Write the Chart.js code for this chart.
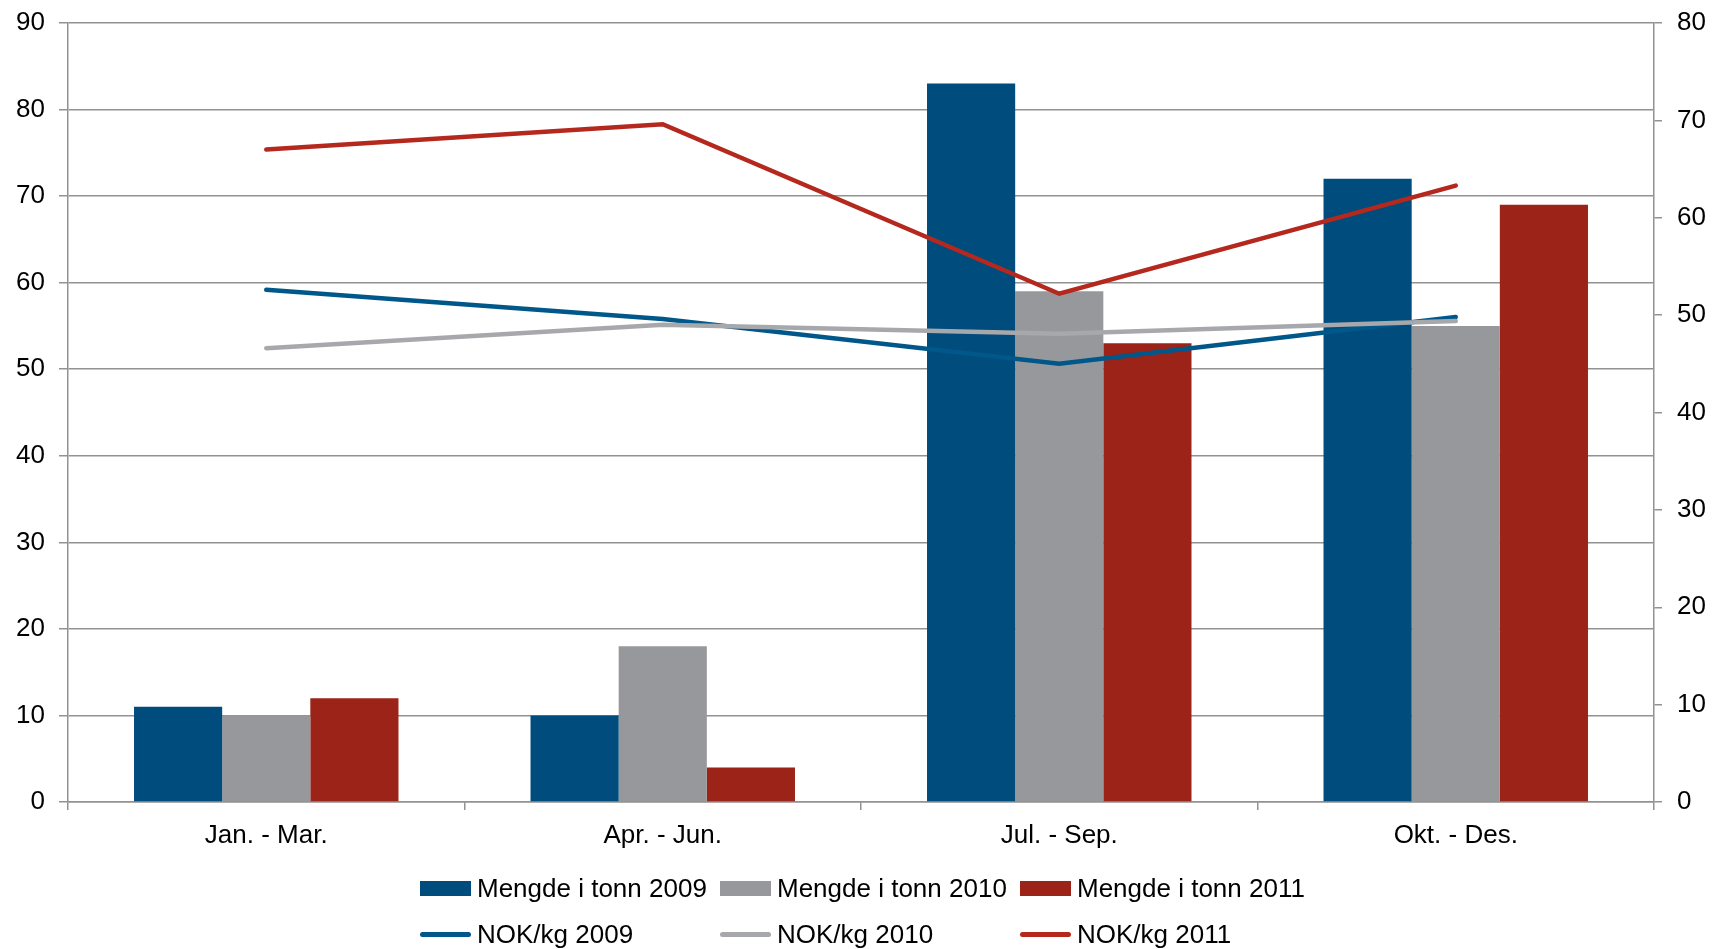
<!DOCTYPE html>
<html>
<head>
<meta charset="utf-8">
<script src="https://cdn.jsdelivr.net/npm/chart.js@4/dist/chart.umd.min.js"></script>
<style>
  body { margin: 0; background: #fff; }
  #wrap { position: relative; width: 1712px; height: 949px; }
  #legend {
    position: absolute; left: 420px; top: 865px;
    display: grid; grid-template-columns: 300px 300px 300px;
    font: 26px "Liberation Sans", Arial, sans-serif; color: #000;
  }
  .item { display: flex; align-items: center; height: 46px; white-space: nowrap; }
  .box { width: 51px; height: 15px; margin-right: 6px; }
  .line { width: 51px; height: 5px; border-radius: 3px; margin-right: 6px; }
</style>
</head>
<body>
<div id="wrap">
  <canvas id="chart" width="1712" height="949"></canvas>
  <div id="legend"></div>
</div>
<script>
const quarters = ['Jan. - Mar.', 'Apr. - Jun.', 'Jul. - Sep.', 'Okt. - Des.'];

// tonnes (left axis)
const tonn2009 = [11, 10, 83, 72];
const tonn2010 = [10, 18, 59, 55];
const tonn2011 = [12, 4, 53, 69];

// NOK/kg (right axis)
const nok2009 = [52.6, 49.6, 45.0, 49.8];
const nok2010 = [46.6, 49.0, 48.1, 49.4];
const nok2011 = [67.0, 69.6, 52.2, 63.3];

const gridColor = '#929292';
const font = { family: '"Liberation Sans", Arial, sans-serif', size: 26 };

function barSet(label, data, color) {
    return {
        type: 'bar', label: label, data: data, yAxisID: 'y',
        backgroundColor: color, borderWidth: 0,
        categoryPercentage: 0.667, barPercentage: 1, order: 10
    };
}

function lineSet(label, data, color, order) {
    return {
        type: 'line', label: label, data: data, yAxisID: 'y1',
        borderColor: color, backgroundColor: color, borderWidth: 4.5,
        pointRadius: 0, tension: 0, fill: false,
        borderCapStyle: 'round', order: order
    };
}

const datasets = [
    barSet('Mengde i tonn 2009', tonn2009, '#004C7C'),
    barSet('Mengde i tonn 2010', tonn2010, '#97989B'),
    barSet('Mengde i tonn 2011', tonn2011, '#9B2318'),
    lineSet('NOK/kg 2009', nok2009, '#00578A', 3),
    lineSet('NOK/kg 2010', nok2010, '#A7A8AC', 2),
    lineSet('NOK/kg 2011', nok2011, '#B4281E', 1)
];

// fixed axis widths, no extra room for label overhang
function fitY(width) {
    return function(scale) {
        scale.width = width;
        scale.paddingTop = 0;
        scale.paddingBottom = 0;
    };
}

const ctx = document.getElementById('chart').getContext('2d');
new Chart(ctx, {
    data: { labels: quarters, datasets: datasets },
    options: {
        responsive: false,
        animation: false,
        layout: { padding: { top: 23, left: 0, right: 0, bottom: 0 } },
        plugins: { legend: { display: false }, tooltip: { enabled: false } },
        scales: {
            x: {
                offset: true,
                grid: { offset: true, drawOnChartArea: false, color: gridColor, lineWidth: 1.5, tickLength: 8 },
                border: { color: gridColor, width: 1.5 },
                ticks: { color: '#000', font: font, padding: 10, maxRotation: 0 },
                afterFit: function(scale) { scale.height = 147; }
            },
            y: {
                position: 'left', min: 0, max: 90,
                grid: { color: gridColor, lineWidth: 1.5, tickLength: 9 },
                border: { color: gridColor, width: 1.5 },
                ticks: { stepSize: 10, color: '#000', font: font, padding: 14 },
                afterFit: fitY(68)
            },
            y1: {
                position: 'right', min: 0, max: 80,
                grid: { drawOnChartArea: false, color: gridColor, lineWidth: 1.5, tickLength: 8 },
                border: { color: gridColor, width: 1.5 },
                ticks: { stepSize: 10, color: '#000', font: font, padding: 15 },
                afterFit: fitY(58)
            }
        }
    }
});

// legend laid out in columns like the original
const legend = document.getElementById('legend');
datasets.forEach(ds => {
    const item = document.createElement('div');
    item.className = 'item';
    const sym = document.createElement('span');
    sym.className = ds.type === 'bar' ? 'box' : 'line';
    sym.style.background = ds.type === 'bar' ? ds.backgroundColor : ds.borderColor;
    item.appendChild(sym);
    item.appendChild(document.createTextNode(ds.label));
    legend.appendChild(item);
});
</script>
</body>
</html>
